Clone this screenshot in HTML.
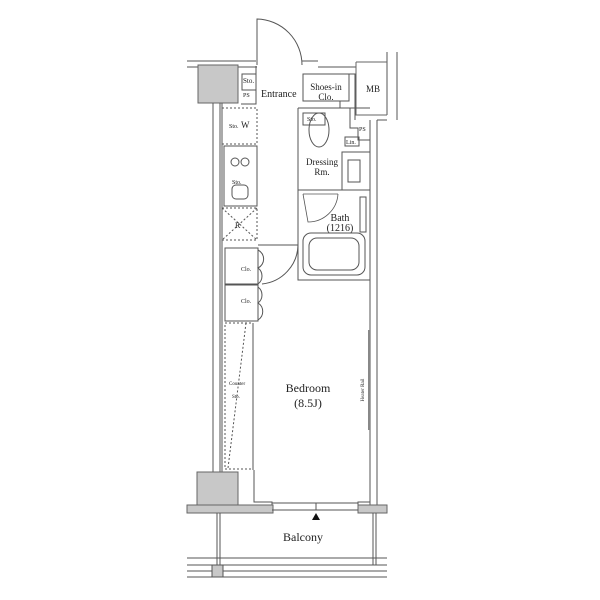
<!DOCTYPE html>
<html><head><style>
html,body{margin:0;padding:0;background:#fff;width:600px;height:600px;overflow:hidden}
svg text{font-family:"Liberation Serif",serif;fill:#222}
</style></head><body>
<svg width="600" height="600" viewBox="0 0 600 600" xmlns="http://www.w3.org/2000/svg">
<g fill="none" stroke="#555" stroke-width="1">
<path d="M187 61 H256 M187 67 H198 M238 67 H257 M302 61 H318 M318 67 H356"/>
<rect x="198" y="65" width="40" height="38" fill="#c8c8c8" stroke="#666"/>
<path d="M257 65 V19 A46 46 0 0 1 302 65"/>
<path d="M213 103 V472 M220 103 V472 M222 103 V472"/>
<path d="M370 120 V505 M377 120 V505"/>
<path d="M387 52 V115 M397 52 V118 M377 120 H387 M397 118 V120"/>
<path d="M356 62 H387 M356 62 V115 H387" stroke="#666"/>
<rect x="242" y="74" width="14" height="16"/>
<path d="M241 104 H256 V66"/>
<rect x="303" y="74" width="46" height="27"/>
<path d="M349 74 H355 V120 M340 101 V108 H370"/>
<path d="M298 108 H350 V128 H358 V140 H370 M298 108 V190 H370"/>
<rect x="303" y="113" width="22" height="12"/>
<ellipse cx="319" cy="130" rx="10" ry="17"/>
<rect x="345" y="137" width="14" height="9"/>
<rect x="342" y="152" width="28" height="38"/>
<rect x="348" y="160" width="12" height="22"/>
<path d="M298 190 V280 H370"/>
<path d="M303 194 H338 M303 194 L308 222 A30 30 0 0 0 338 194" stroke-width="0.8"/>
<rect x="360" y="197" width="6" height="35"/>
<rect x="303" y="233" width="62" height="42" rx="8"/>
<rect x="309" y="238" width="50" height="32" rx="8"/>
<path d="M258 245 H298 M298 245 A40 40 0 0 1 262 284"/>
<rect x="222" y="108" width="35" height="36" stroke-dasharray="2 2"/>
<rect x="224" y="146" width="33" height="60"/>
<circle cx="235" cy="162" r="4"/><circle cx="245" cy="162" r="4"/>
<rect x="232" y="185" width="16" height="14" rx="4"/>
<rect x="222" y="208" width="35" height="32" stroke-dasharray="2 2"/>
<path d="M222 208 L257 240 M257 208 L222 240" stroke-dasharray="2 2"/>
<rect x="225" y="248" width="33" height="36"/>
<rect x="225" y="285" width="33" height="36"/>
<path d="M258 250 A10 10 0 0 1 258 268 A10 10 0 0 1 258 284 M258 287 A10 10 0 0 1 258 303 A10 10 0 0 1 258 320"/>
<rect x="225" y="323" width="28" height="146" stroke-dasharray="2 2"/>
<path d="M253 323 V470 M254 470 V502 H272 V508 M358 508 V502 H370" />
<path d="M246 323 L228 468" stroke-dasharray="2 2"/>
<path d="M369 330 V430" stroke-width="2" stroke="#888"/>
<rect x="197" y="472" width="41" height="35" fill="#c8c8c8" stroke="#666"/>
<path d="M187 505 H273 V513 H187 Z" fill="#c8c8c8" stroke="#666"/>
<path d="M358 505 H387 V513 H358 Z" fill="#c8c8c8" stroke="#666"/>
<path d="M272 503 H358 M272 510 H358 M316 503 V510"/>
<path d="M217 513 V565 M220 513 V565 M373 513 V565 M376 513 V565"/>
<path d="M187 558 H387 M187 565 H387 M187 571 H387 M187 577 H387"/>
<rect x="212" y="565" width="11" height="12" fill="#c8c8c8"/>
</g>
<path d="M312 520 L320 520 L316 513 Z" fill="#111"/>
<g font-size="7">
<text x="243" y="83">Sto.</text><text x="243" y="97" font-size="6">PS</text>
<text x="229" y="128" font-size="6">Sto.</text>
<text x="232" y="184" font-size="6">Sto.</text>
<text x="307" y="121" font-size="6">Sto.</text>
<text x="346" y="144" font-size="6">Lin.</text>
<text x="359" y="131" font-size="6">PS</text>
<text x="229" y="385" font-size="5">Counter</text>
<text x="232" y="398" font-size="5">Sto.</text>
<text x="241" y="271" font-size="6">Clo.</text>
<text x="241" y="303" font-size="6">Clo.</text>
</g>
<text x="241" y="128" font-size="9">W</text>
<text x="235" y="228" font-size="8">R</text>
<text x="261" y="97" font-size="10">Entrance</text>
<text x="326" y="90" font-size="9" text-anchor="middle">Shoes-in</text>
<text x="326" y="100" font-size="9" text-anchor="middle">Clo.</text>
<text x="373" y="92" font-size="9" text-anchor="middle">MB</text>
<text x="322" y="165" font-size="9" text-anchor="middle">Dressing</text>
<text x="322" y="175" font-size="9" text-anchor="middle">Rm.</text>
<text x="340" y="221" font-size="10" text-anchor="middle">Bath</text>
<text x="340" y="231" font-size="10" text-anchor="middle">(1216)</text>
<text x="308" y="392" font-size="12" text-anchor="middle">Bedroom</text>
<text x="308" y="407" font-size="12" text-anchor="middle">(8.5J)</text>
<text x="303" y="541" font-size="12" text-anchor="middle">Balcony</text>
<text transform="translate(364 390) rotate(-90)" font-size="5" text-anchor="middle">Heater Rail</text>
</svg>
</body></html>
